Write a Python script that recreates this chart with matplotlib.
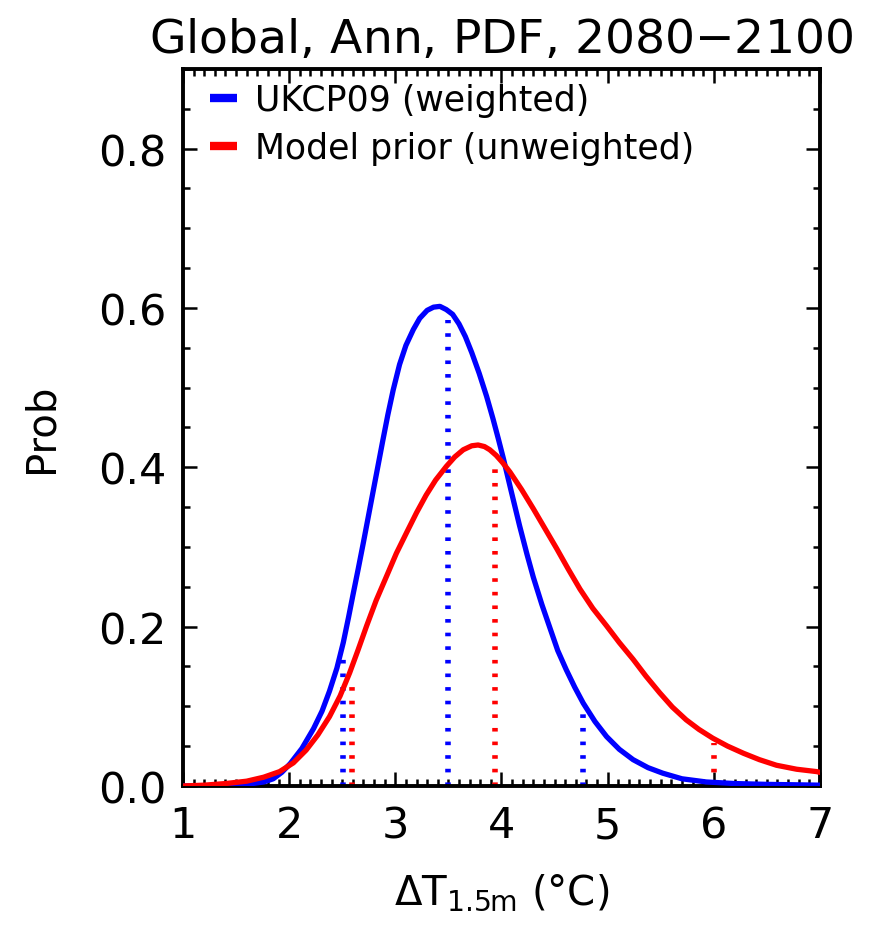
"""Global annual PDF of 1.5m temperature change, 2080-2100 (UKCP09 vs model prior)."""

import matplotlib

matplotlib.use("Agg")
import matplotlib.pyplot as plt
from matplotlib.lines import Line2D
from matplotlib.ticker import MultipleLocator

plt.rcParams["font.family"] = ["DejaVu Sans"]
plt.rcParams["mathtext.fontset"] = "dejavusans"

# weighted (UKCP09) pdf
BLUE_X = [1.0, 1.2, 1.4, 1.6, 1.76, 1.85, 1.93, 2.01, 2.12, 2.23, 2.31, 2.38, 2.45, 2.51,
          2.56, 2.60, 2.65, 2.70, 2.76, 2.82, 2.88, 2.93, 2.98, 3.04, 3.10, 3.17, 3.23,
          3.30, 3.36, 3.42, 3.48, 3.54, 3.60, 3.66, 3.72, 3.79, 3.86, 3.92, 3.97, 4.02,
          4.09, 4.17, 4.24, 4.30, 4.38, 4.46, 4.53, 4.61, 4.69, 4.77, 4.88, 4.99, 5.11,
          5.24, 5.38, 5.52, 5.70, 5.93, 6.2, 6.5, 7.0]
BLUE_P = [0.0, 0.0, 0.001, 0.002, 0.005, 0.009, 0.017, 0.028, 0.047, 0.072, 0.094, 0.119,
          0.148, 0.18, 0.212, 0.239, 0.272, 0.306, 0.348, 0.39, 0.432, 0.466, 0.497, 0.529,
          0.553, 0.573, 0.587, 0.597, 0.601, 0.602, 0.598, 0.592, 0.580, 0.564, 0.544,
          0.518, 0.489, 0.461, 0.436, 0.410, 0.371, 0.327, 0.291, 0.262, 0.228, 0.197,
          0.170, 0.146, 0.124, 0.104, 0.081, 0.062, 0.046, 0.033, 0.023, 0.016, 0.009,
          0.005, 0.003, 0.002, 0.001]

# unweighted model prior pdf
RED_X = [1.0, 1.2, 1.4, 1.6, 1.76, 1.91, 2.04, 2.16, 2.27, 2.38, 2.48, 2.57, 2.65, 2.73,
         2.82, 2.92, 3.01, 3.11, 3.20, 3.29, 3.38, 3.48, 3.56, 3.64, 3.72, 3.78, 3.84,
         3.89, 3.95, 4.01, 4.08, 4.19, 4.30, 4.41, 4.52, 4.63, 4.74, 4.86, 4.99, 5.11,
         5.24, 5.36, 5.49, 5.61, 5.74, 5.86, 5.99, 6.13, 6.28, 6.43, 6.59, 6.78, 6.97, 7.0]
RED_P = [0.0, 0.001, 0.003, 0.006, 0.011, 0.018, 0.029, 0.045, 0.064, 0.087, 0.113, 0.142,
         0.171, 0.201, 0.233, 0.264, 0.292, 0.319, 0.343, 0.365, 0.384, 0.401, 0.413,
         0.422, 0.427, 0.428, 0.426, 0.422, 0.415, 0.406, 0.394, 0.372, 0.348, 0.323,
         0.298, 0.272, 0.247, 0.223, 0.201, 0.180, 0.159, 0.138, 0.117, 0.099, 0.083,
         0.071, 0.06, 0.050, 0.041, 0.033, 0.026, 0.021, 0.018, 0.017]

# 10/50/90 percentile markers (position, height of the dotted line)
BLUE_PCT_X = [2.51, 3.50, 4.77]
BLUE_PCT_P = [0.17, 0.585, 0.102]
RED_PCT_X = [2.59, 3.94, 6.0]
RED_PCT_P = [0.134, 0.40, 0.054]

LABELS = ["UKCP09 (weighted)", "Model prior (unweighted)"]
COLORS = ["#0000FF", "#FF0000"]

fig = plt.figure(figsize=(8.81, 9.29), dpi=100)
ax = fig.add_axes([0.2077, 0.1529, 0.7230, 0.7718])

for xs, ps, col in [(BLUE_PCT_X, BLUE_PCT_P, COLORS[0]), (RED_PCT_X, RED_PCT_P, COLORS[1])]:
    for x, p in zip(xs, ps):
        ax.plot([x, x], [0, p], color=col, lw=4.0, dashes=(0.65, 1.8),
                dash_capstyle="butt", zorder=2)

ax.plot(BLUE_X, BLUE_P, color=COLORS[0], lw=3.8, zorder=3)
ax.plot(RED_X, RED_P, color=COLORS[1], lw=3.8, zorder=4)

ax.set_xlim(1, 7)
ax.set_ylim(0, 0.9)
ax.xaxis.set_major_locator(MultipleLocator(1))
ax.xaxis.set_minor_locator(MultipleLocator(0.1))
ax.yaxis.set_major_locator(MultipleLocator(0.2))
ax.yaxis.set_minor_locator(MultipleLocator(0.05))
ax.yaxis.set_major_formatter(lambda v, _: f"{v:.1f}")
ax.tick_params(which="both", direction="in", top=True, right=True, width=1.8)
ax.tick_params(which="major", length=10, labelsize=31)
ax.tick_params(axis="x", which="major", pad=13)
ax.tick_params(axis="y", which="major", pad=12)
ax.tick_params(which="minor", length=5)
for s in ax.spines.values():
    s.set_linewidth(2.8)

ax.set_title("Global, Ann, PDF, 2080$-$2100", fontsize=34, pad=12)
ax.set_ylabel("Prob", fontsize=29)
ax.yaxis.set_label_coords(-0.19, 0.5)
ax.set_xlabel(r"$\Delta$T$_{\rm 1.5m}$ ($\degree$C)", fontsize=29, labelpad=18)

handles = [Line2D([], [], color=c, lw=6, solid_capstyle="butt") for c in COLORS]
ax.legend(handles, LABELS, loc="upper left", frameon=False, fontsize=25, handlelength=0.8,
          handletextpad=0.5, labelspacing=0.4, borderaxespad=0.0, bbox_to_anchor=(0.02, 1.0))

fig.savefig("out.png", dpi=100)
